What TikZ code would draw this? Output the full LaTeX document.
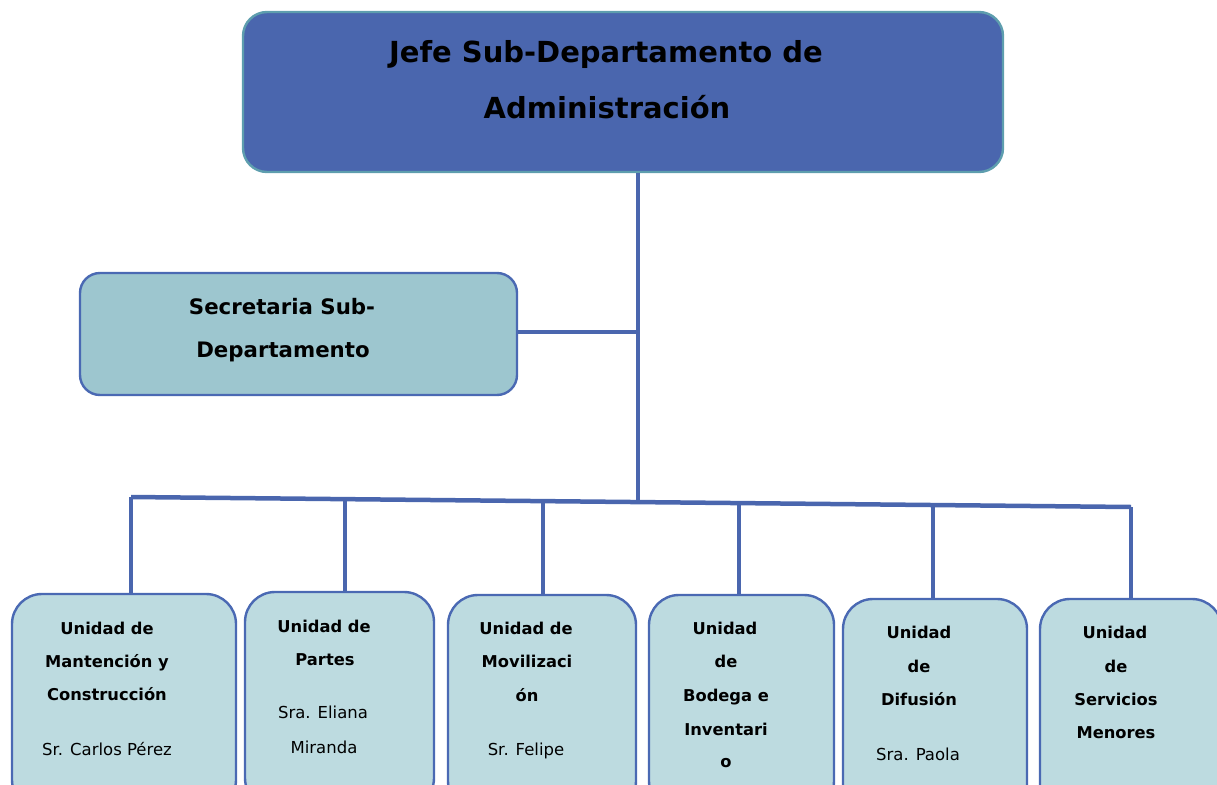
\documentclass[tikz,border=0pt]{standalone}
\usepackage{fontspec}
\setmainfont{DejaVu Sans}
\definecolor{topfill}{HTML}{4A66AE}
\definecolor{topbord}{HTML}{5E9EAE}
\definecolor{secfill}{HTML}{9DC6CF}
\definecolor{unitfill}{HTML}{BDDBE0}
\definecolor{bordc}{HTML}{4A69B3}
\definecolor{linec}{HTML}{4A66AE}
\begin{document}
\begin{tikzpicture}[x=1pt,y=-1pt,
  boxshape/.style={draw=bordc, line width=2.4pt, inner sep=0pt},
  conn/.style={draw=linec, line width=3.2pt},
  bar/.style={draw=linec, line width=4.5pt},
  toptxt/.style={font=\bfseries\fontsize{29}{34}\selectfont, anchor=base, inner sep=0pt},
  sectxt/.style={font=\bfseries\fontsize{21.3}{24}\selectfont, anchor=base, inner sep=0pt},
  bt/.style={font=\bfseries\fontsize{16.3}{18}\selectfont, anchor=base, inner sep=0pt},
  nt/.style={font=\fontsize{16.5}{18}\selectfont, anchor=base, inner sep=0pt}]
\useasboundingbox (0,0) rectangle (1217,784);
\clip (0,0) rectangle (1217,784);
% boxes
\node[boxshape, draw=topbord, fill=topfill, rounded corners=24pt, minimum width=760pt, minimum height=160pt] (top) at (623,92) {};
\node[boxshape, fill=secfill, rounded corners=20pt, minimum width=437pt, minimum height=122pt] (sec) at (298.5,334) {};
\node[boxshape, fill=unitfill, rounded corners=30pt, minimum width=224pt, minimum height=216pt] (b1) at (124,702) {};
\node[boxshape, fill=unitfill, rounded corners=30pt, minimum width=189pt, minimum height=216pt] (b2) at (339.5,700) {};
\node[boxshape, fill=unitfill, rounded corners=30pt, minimum width=188pt, minimum height=216pt] (b3) at (542,703) {};
\node[boxshape, fill=unitfill, rounded corners=30pt, minimum width=185pt, minimum height=216pt] (b4) at (741.5,703) {};
\node[boxshape, fill=unitfill, rounded corners=30pt, minimum width=184pt, minimum height=216pt] (b5) at (935,707) {};
\node[boxshape, fill=unitfill, rounded corners=30pt, minimum width=182pt, minimum height=216pt] (b6) at (1131,707) {};
% connectors
\coordinate (jc) at (638,502);
\coordinate (barL) at (131,497);
\coordinate (barR) at (1131,507);
\coordinate (d1) at (131,497);
\coordinate (d2) at (345,499.1);
\coordinate (d3) at (543,501.1);
\coordinate (d4) at (739,503.1);
\coordinate (d5) at (933,505);
\coordinate (d6) at (1131,507);
\coordinate (se) at ([yshift=2pt]sec.east);
\draw[conn] (top.south -| jc) -- (jc);
\draw[conn] (se) -- (se -| jc);
\draw[bar] (barL) -- (barR);
\draw[conn] (d1) -- (d1 |- b1.north);
\draw[conn] (d2) -- (d2 |- b2.north);
\draw[conn] (d3) -- (d3 |- b3.north);
\draw[conn] (d4) -- (d4 |- b4.north);
\draw[conn] (d5) -- (d5 |- b5.north);
\draw[conn] (d6) -- (d6 |- b6.north);
% texts
\node[toptxt] (t1) at (606,63) {Jefe Sub-Departamento de};
\node[toptxt] (t2) at (607,118) {Administración};
\node[sectxt] (s1) at (282,314) {Secretaria Sub-};
\node[sectxt] (s2) at (283,357) {Departamento};
% box 1
\node[bt] (a1) at (107,634) {Unidad de};
\node[bt] (a2) at (107,667) {Mantención y};
\node[bt] (a3) at (107,700) {Construcción};
\node[nt] (a4) at (107,755) {Sr. Carlos Pérez};
% box 2
\node[bt] (c1) at (324,632) {Unidad de};
\node[bt] (c2) at (325,665) {Partes};
\node[nt] (c3) at (323,718) {Sra. Eliana};
\node[nt] (c4) at (324,753) {Miranda};
% box 3
\node[bt] (e1) at (526,634) {Unidad de};
\node[bt] (e2) at (527,667) {Movilizaci};
\node[bt] (e3) at (527,701) {ón};
\node[nt] (e4) at (526,755) {Sr. Felipe};
% box 4
\node[bt] (f1) at (725,634) {Unidad};
\node[bt] (f2) at (726,667) {de};
\node[bt] (f3) at (726,701) {Bodega e};
\node[bt] (f4) at (726,735) {Inventari};
\node[bt] (f5) at (726,767) {o};
% box 5
\node[bt] (g1) at (919,638) {Unidad};
\node[bt] (g2) at (919,672) {de};
\node[bt] (g3) at (919,705) {Difusión};
\node[nt] (g4) at (918,760) {Sra. Paola};
% box 6
\node[bt] (h1) at (1115,638) {Unidad};
\node[bt] (h2) at (1116,672) {de};
\node[bt] (h3) at (1116,705) {Servicios};
\node[bt] (h4) at (1116,738) {Menores};
\end{tikzpicture}
\end{document}
